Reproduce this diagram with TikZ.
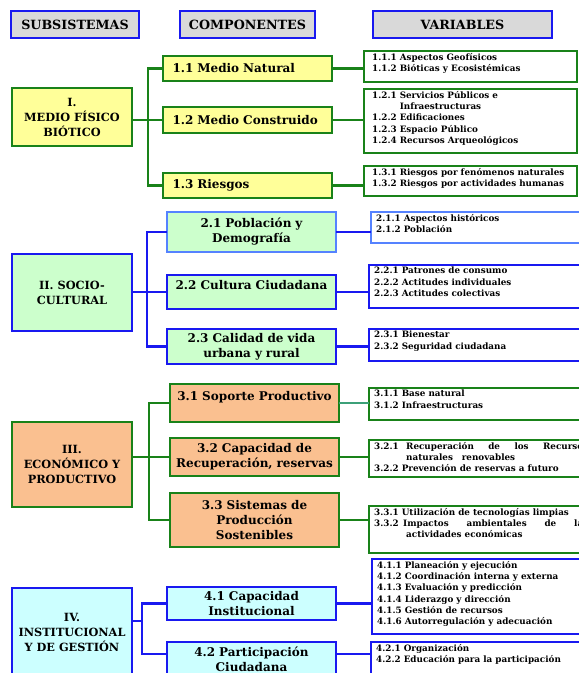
\documentclass[tikz,border=0pt]{standalone}
\usepackage{fontspec}
\setmainfont{DejaVu Serif}
\usepackage{xcolor}
\definecolor{verdeborde}{RGB}{25,130,25}
\definecolor{azulborde}{RGB}{25,25,240}
\definecolor{azulclaro}{RGB}{85,130,255}
\definecolor{amarillo}{RGB}{255,255,153}
\definecolor{verdeclaro}{RGB}{204,255,204}
\definecolor{naranja}{RGB}{250,192,144}
\definecolor{celeste}{RGB}{204,255,255}
\definecolor{grisclaro}{RGB}{217,217,217}
\definecolor{verdeazul}{RGB}{60,160,120}

\begin{document}
\begin{tikzpicture}[x=1pt,y=-1pt,
	caja/.style={draw,line width=2.5pt,anchor=north west,outer sep=0pt,inner sep=0pt},
	titulo/.style={caja,draw=azulborde,fill=grisclaro,minimum height=27pt,font=\bfseries\fontsize{12.7}{14}\selectfont},
	subsis/.style={caja,minimum width=120pt,align=center,font=\bfseries\fontsize{11.3}{15}\selectfont},
	comp/.style={caja,text width=161pt,inner xsep=4pt,align=center,font=\bfseries\fontsize{12}{15}\selectfont},
	izq/.style={text width=150pt,inner xsep=9.5pt,align=left},
	var/.style={draw,line width=2pt,anchor=north west,outer sep=0pt,inner sep=0pt,minimum width=240pt},
	vartxt/.style={anchor=north west,inner xsep=5pt,inner ysep=2pt,align=left,font=\bfseries\fontsize{8.8}{11.3}\selectfont},
	rama/.style={line width=2.5pt}]
				\useasboundingbox (0,0) rectangle (579,673);
				\clip (0,0) rectangle (579,673);

				% encabezados
				\node[titulo,minimum width=128pt] (h1) at (11,11) {SUBSISTEMAS};
				\node[titulo,minimum width=135pt] (h2) at (180,11) {COMPONENTES};
				\node[titulo,minimum width=179pt] (h3) at (373,11) {VARIABLES};

				% I. medio fisico biotico
				\node[subsis,draw=verdeborde,fill=amarillo,minimum height=58pt] (s1) at (12,88) {I.\\MEDIO FÍSICO\\BIÓTICO};
				\node[comp,izq,draw=verdeborde,fill=amarillo,minimum height=25pt] (c11) at (163,56) {1.1 Medio Natural};
				\node[comp,izq,draw=verdeborde,fill=amarillo,minimum height=26pt] (c12) at (163,107) {1.2 Medio Construido};
				\node[comp,izq,draw=verdeborde,fill=amarillo,minimum height=25pt] (c13) at (163,173) {1.3 Riesgos};
				\node[var,draw=verdeborde,minimum width=213pt,minimum height=31pt] (v11) at (364,51) {};
				\node[var,draw=verdeborde,minimum width=213pt,minimum height=64pt] (v12) at (364,89) {};
				\node[var,draw=verdeborde,minimum width=213pt,minimum height=30pt] (v13) at (364,166) {};
				\node[vartxt,inner xsep=8pt] (x11) at (v11.north west) {1.1.1 Aspectos Geofísicos\\1.1.2 Bióticas y Ecosistémicas};
				\node[vartxt,inner xsep=8pt] (x12) at (v12.north west) {1.2.1 Servicios Públicos e\\\phantom{1.2.1 }Infraestructuras\\1.2.2 Edificaciones\\1.2.3 Espacio Público\\1.2.4 Recursos Arqueológicos};
				\node[vartxt,inner xsep=8pt] (x13) at (v13.north west) {1.3.1 Riesgos por fenómenos naturales\\1.3.2 Riesgos por actividades humanas};
				\coordinate (t1) at (148,0);
				\draw[rama,verdeborde] (c11.west) -| (t1 |- c13.west) -- (c13.west);
				\draw[rama,verdeborde] (s1.east |- c12.west) -- (c12.west);
				\foreach \n in {11,12,13}
					\draw[rama,verdeborde] (c\n.east) -- (c\n.east -| v\n.west);

				% II. socio-cultural
				\node[subsis,draw=azulborde,fill=verdeclaro,minimum height=77pt] (s2) at (12,254) {II. SOCIO-\\CULTURAL};
				\node[comp,draw=azulclaro,fill=verdeclaro,minimum height=40pt] (c21) at (167,212) {2.1 Población y\\Demografía};
				\node[comp,draw=azulborde,fill=verdeclaro,minimum height=34pt] (c22) at (167,275) {2.2 Cultura Ciudadana\\\mbox{}};
				\node[comp,draw=azulborde,fill=verdeclaro,minimum height=35pt] (c23) at (167,329) {2.3 Calidad de vida\\urbana y rural};
				\node[var,draw=azulclaro,minimum height=31pt] (v21) at (371,212) {};
				\node[var,draw=azulborde,minimum height=43pt] (v22) at (369,265) {};
				\node[var,draw=azulborde,minimum height=32pt] (v23) at (369,329) {};
				\node[vartxt] (x21) at (v21.north west) {2.1.1 Aspectos históricos\\2.1.2 Población};
				\node[vartxt] (x22) at (v22.north west) {2.2.1 Patrones de consumo\\2.2.2 Actitudes individuales\\2.2.3 Actitudes colectivas};
				\node[vartxt] (x23) at (v23.north west) {2.3.1 Bienestar\\2.3.2 Seguridad ciudadana};
				\coordinate (t2) at (147,0);
				\draw[rama,azulborde] (c21.west) -| (t2 |- c23.west) -- (c23.west);
				\draw[rama,azulborde] (s2.east |- c22.west) -- (c22.west);
				\foreach \n in {21,22,23}
					\draw[rama,azulborde] (c\n.east) -- (c\n.east -| v\n.west);

				% III. economico y productivo
				\node[subsis,draw=verdeborde,fill=naranja,minimum height=85pt] (s3) at (12,422) {III.\\ECONÓMICO Y\\PRODUCTIVO};
				\node[comp,draw=verdeborde,fill=naranja,minimum height=38pt] (c31) at (170,384) {3.1 Soporte Productivo\\\mbox{}};
				\node[comp,draw=verdeborde,fill=naranja,minimum height=38pt] (c32) at (170,438) {3.2 Capacidad de\\Recuperación, reservas};
				\node[comp,draw=verdeborde,fill=naranja,minimum height=54pt] (c33) at (170,493) {3.3 Sistemas de\\Producción\\Sostenibles};
				\node[var,draw=verdeborde,minimum height=32pt] (v31) at (369,388) {};
				\node[var,draw=verdeborde,minimum height=37pt] (v32) at (369,440) {};
				\node[var,draw=verdeborde,minimum height=47pt] (v33) at (369,506) {};
				\node[vartxt] (x31) at (v31.north west) {3.1.1 Base natural\\3.1.2 Infraestructuras};
				\node[vartxt] (x32) at (v32.north west) {\makebox[214pt][l]{\makebox[32pt][l]{3.2.1}Recuperación\hfill de\hfill los\hfill Recursos}\\\hspace*{32pt}naturales\quad renovables\\3.2.2 Prevención de reservas a futuro};
				\node[vartxt] (x33) at (v33.north west) {3.3.1 Utilización de tecnologías limpias\\\makebox[214pt][l]{\makebox[29pt][l]{3.3.2}Impactos\hfill ambientales\hfill de\hfill las}\\\hspace*{32pt}actividades económicas};
				\coordinate (t3) at (149,0);
				\draw[rama,verdeborde] (c31.west) -| (t3 |- c33.west) -- (c33.west);
				\draw[rama,verdeborde] (s3.east |- c32.west) -- (c32.west);
				\draw[line width=2pt,verdeazul] (c31.east) -- (c31.east -| v31.west);
				\foreach \n in {32,33}
					\draw[rama,verdeborde] (c\n.east) -- (c\n.east -| v\n.west);

				% IV. institucional y de gestion
				\node[subsis,draw=azulborde,fill=celeste,minimum height=88pt] (s4) at (12,588) {IV.\\INSTITUCIONAL\\Y DE GESTIÓN};
				\node[comp,draw=azulborde,fill=celeste,minimum height=33pt] (c41) at (167,587) {4.1 Capacidad\\Institucional};
				\node[comp,draw=azulborde,fill=celeste,minimum height=34pt] (c42) at (167,642) {4.2 Participación\\Ciudadana};
				\node[var,draw=azulborde,minimum height=75pt] (v41) at (372,559) {};
				\node[var,draw=azulborde,minimum height=40pt] (v42) at (371,642) {};
				\node[vartxt] (x41) at (v41.north west) {4.1.1 Planeación y ejecución\\4.1.2 Coordinación interna y externa\\4.1.3 Evaluación y predicción\\4.1.4 Liderazgo y dirección\\4.1.5 Gestión de recursos\\4.1.6 Autorregulación y adecuación};
				\node[vartxt] (x42) at (v42.north west) {4.2.1 Organización\\4.2.2 Educación para la participación};
				\coordinate (t4) at (142,621);
				\coordinate (b42) at ([yshift=5pt]c42.west);
				\draw[rama,azulborde] (c41.west) -| (t4 |- b42) -- (b42);
				\draw[rama,azulborde] (s4.east |- t4) -- (t4);
				\draw[rama,azulborde] (c41.east) -- (c41.east -| v41.west);
				\draw[rama,azulborde] (b42 -| c42.east) -- (b42 -| v42.west);
			\end{tikzpicture}
\end{document}
